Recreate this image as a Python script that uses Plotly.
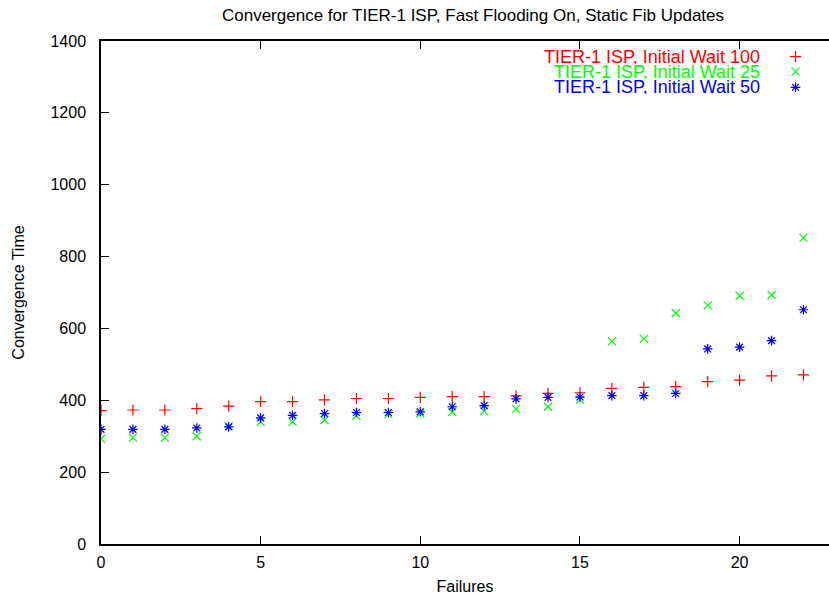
import plotly.graph_objects as go

failures = list(range(23))
wait_100 = [371, 373, 373, 377, 384, 396, 396, 401, 405, 405, 408, 410, 410, 412, 419, 421,
            433, 436, 438, 452, 456, 468, 471]
wait_25 = [293, 296, 296, 300, 328, 340, 340, 345, 357, 362, 364, 368, 370, 376, 382, 402,
           564, 571, 643, 664, 691, 693, 852]
wait_50 = [319, 319, 319, 323, 326, 351, 358, 363, 366, 366, 368, 382, 385, 404, 408, 409,
           413, 413, 419, 543, 548, 566, 652]

names = ["TIER-1 ISP, Initial Wait 100", "TIER-1 ISP, Initial Wait 25", "TIER-1 ISP, Initial Wait 50"]
series = [wait_100, wait_25, wait_50]
colors = ["#ff0000", "#00ff00", "#0000ff"]
symbols = ["cross-thin", "x-thin", "asterisk"]
sizes = [8, 8, 8]

FONT = "Liberation Sans, Arial, sans-serif"
FS = 16

fig = go.Figure()
for nm, ys, c, s, sz in zip(names, series, colors, symbols, sizes):
    fig.add_trace(go.Scatter(
        x=failures, y=ys, mode="markers", name=nm, showlegend=False,
        marker=dict(symbol=s, size=sz, color=c, line=dict(color=c, width=1.2)),
    ))

# gnuplot-style key: text right-aligned, sample to the right
key_rows = [0.969, 0.939, 0.908]
for nm, c, s, sz, ky in zip(names, colors, symbols, sizes, key_rows):
    fig.add_trace(go.Scatter(
        x=[0.954], y=[ky], xaxis="x2", yaxis="y2", mode="markers", showlegend=False,
        marker=dict(symbol=s, size=sz, color=c, line=dict(color=c, width=1.2)),
        hoverinfo="skip",
    ))
    fig.add_annotation(x=0.907, y=ky, xref="paper", yref="paper", text=nm,
                       showarrow=False, xanchor="right", yanchor="middle",
                       height=14, borderpad=0, valign="middle",
                       font=dict(family=FONT, size=18, color=c))

fig.update_layout(
    width=829, height=597,
    margin=dict(l=101, r=0, t=41, b=53),
    paper_bgcolor="white", plot_bgcolor="white",
    font=dict(family=FONT, size=FS, color="black"),
    xaxis=dict(range=[0, 22.8], tickvals=[0, 5, 10, 15, 20], showline=True, linecolor="black",
               linewidth=1.5, mirror="ticks", ticks="inside", ticklen=8, tickcolor="black",
               showgrid=False, zeroline=False, tickfont=dict(size=FS),
               title=dict(text="Failures", standoff=11, font=dict(size=FS)),
               ticklabelstandoff=3),
    yaxis=dict(range=[0, 1400], tickvals=list(range(0, 1401, 200)), showline=True,
               linecolor="black", linewidth=1.5, ticks="inside", ticklen=8, tickcolor="black",
               showgrid=False, zeroline=False, tickfont=dict(size=FS),
               title=dict(text="Convergence Time", standoff=22, font=dict(size=FS)),
               ticklabelstandoff=10),
    xaxis2=dict(range=[0, 1], overlaying="x", visible=False, domain=[0, 1]),
    yaxis2=dict(range=[0, 1], overlaying="y", visible=False),
    title=dict(text="Convergence for TIER-1 ISP, Fast Flooding On, Static Fib Updates",
               x=(473 - 101) / 728, xref="paper", xanchor="center", y=1 - 15 / 597,
               yanchor="middle", font=dict(size=17)),
)

fig.write_html("out.html")
